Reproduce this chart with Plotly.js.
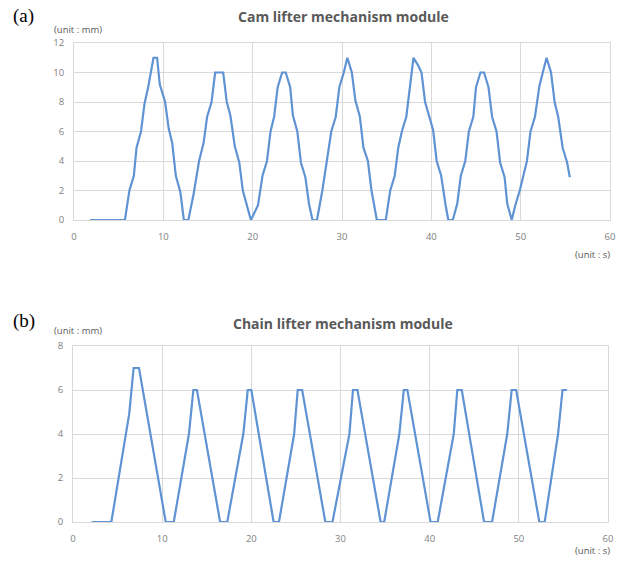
<!DOCTYPE html>
<html>
<head>
<meta charset="utf-8">
<script src="https://cdn.plot.ly/plotly-3.0.1.min.js"></script>
<style>html,body{margin:0;padding:0;background:#fff;}#chart{width:620px;height:561px;}</style>
</head>
<body>
<div id="chart"></div>
<script>
// Cam lifter mechanism module (unit: s, mm)
var camTime = [1.8,5.7,6.2,6.7,7.0,7.5,7.9,8.3,8.9,9.3,9.6,10.2,10.6,11.0,11.4,11.9,12.3,12.8,13.4,14.0,14.5,14.9,15.4,15.8,16.7,17.1,17.5,18.0,18.5,18.9,19.8,20.6,21.1,21.6,22.0,22.4,22.8,23.3,23.7,24.2,24.5,25.0,25.4,25.9,26.3,26.7,27.2,27.8,28.3,28.8,29.3,29.7,30.2,30.6,31.1,31.5,32.0,32.4,32.9,33.3,33.9,34.9,35.4,35.9,36.3,36.7,37.2,37.6,38.0,38.5,38.9,39.3,39.8,40.2,40.6,41.1,41.6,41.9,42.4,42.9,43.3,43.8,44.2,44.7,45.0,45.5,45.9,46.4,46.8,47.3,47.7,48.2,48.5,49.0,49.4,49.9,50.3,50.7,51.1,51.6,52.1,52.5,52.9,53.4,53.8,54.2,54.7,55.2,55.5];
var camDisp = [0,0,2,3,4.9,6,7.9,9,11,11,9.2,8,6.2,5.2,3,1.9,0,0,1.8,4,5.2,7,8,10,10,8,7.1,5,3.9,2,0,1,3,4,6,7,9,10,10,9,7.1,6,3.9,2.9,1.1,0,0,2,4,6,7,9,10,11,10,8.1,7,4.9,4,2,0,0,2,3,4.9,6,7,9,11,10.5,10,8,7,6.1,4,3,1,0,0,1.1,3,4,6,7,9,10,10,9,7,6,3.9,2.9,1.1,0,1,2,3,4,6,7,9.1,10,11,10,8,7,4.9,3.9,2.9];
// Chain lifter mechanism module (unit: s, mm)
var chainTime = [2.1,4.3,6.3,6.8,7.4,10.4,11.3,13.0,13.5,13.9,16.5,17.3,19.1,19.6,20.0,22.5,23.1,24.8,25.2,25.7,28.3,29.1,31.0,31.4,31.9,34.5,34.9,36.6,37.1,37.5,40.1,40.9,42.7,43.1,43.6,46.1,47.0,48.7,49.2,49.7,52.3,52.9,54.4,54.9,55.4];
var chainDisp = [0,0,4.9,7,7,0,0,4,6,6,0,0,4,6,6,0,0,4,6,6,0,0,4,6,6,0,0,4,6,6,0,0,4,6,6,0,0,4,6,6,0,0,4,6,6];

var xTicks = [0,10,20,30,40,50,60];
var camTicks = [0,2,4,6,8,10,12];
var chainTicks = [0,2,4,6,8];

var W = 620, H = 561;
function px(x){return x/W;}
function py(y){return 1 - y/H;}

var lineStyle = {color:'#5f93d3', width:2.2};
var tickFont = {family:'Open Sans, sans-serif', size:9.5, color:'#808080'};
var grid = '#d9d9d9';

function xax(dom, anchor){
  return {domain:dom, anchor:anchor, range:[0,60], tickmode:'array', tickvals:xTicks,
    showgrid:true, gridcolor:grid, gridwidth:1, zeroline:false, showline:true, mirror:true,
    linecolor:grid, linewidth:1, ticks:'', tickfont:tickFont, ticklabelstandoff:8, fixedrange:true};
}
function yax(dom, anchor, rng, tv){
  return {domain:dom, anchor:anchor, range:rng, tickmode:'array', tickvals:tv,
    showgrid:true, gridcolor:grid, gridwidth:1, zeroline:false, showline:true, mirror:true,
    linecolor:grid, linewidth:1, ticks:'', tickfont:tickFont, ticklabelstandoff:7, fixedrange:true};
}

var data = [
  {x:camTime, y:camDisp, type:'scatter', mode:'lines', line:lineStyle, xaxis:'x', yaxis:'y', hoverinfo:'skip'},
  {x:chainTime, y:chainDisp, type:'scatter', mode:'lines', line:lineStyle, xaxis:'x2', yaxis:'y2', hoverinfo:'skip'}
];

var titleFont = {family:'Open Sans, sans-serif', size:14, color:'#595959', weight:700};
var unitFont = {family:'Open Sans, sans-serif', size:9.5, color:'#595959'};
var labFont = {family:'Liberation Serif, Times New Roman, serif', size:19, color:'#000'};

function ann(text, x, y, font, xa, ya){
  return {text:text, xref:'paper', yref:'paper', x:px(x), y:py(y), showarrow:false,
    font:font, xanchor:xa||'center', yanchor:ya||'middle'};
}

var layout = {
  width:W, height:H, margin:{l:0,r:0,t:0,b:0},
  paper_bgcolor:'#fff', plot_bgcolor:'#fff', showlegend:false,
  xaxis: xax([px(74), px(610)], 'y'),
  yaxis: yax([py(220), py(43)], 'x', [0,12], camTicks),
  xaxis2: xax([px(73), px(608)], 'y2'),
  yaxis2: yax([py(522), py(346)], 'x2', [0,8], chainTicks),
  annotations: [
    ann('(a)', 11, 16, labFont, 'left'),
    ann('Cam lifter mechanism module', 343, 17, titleFont),
    ann('(unit : mm)', 52, 29, unitFont, 'left'),
    ann('(unit : s)', 612, 254, unitFont, 'right'),
    ann('(b)', 11, 321, labFont, 'left'),
    ann('Chain lifter mechanism module', 343, 323, titleFont),
    ann('(unit : mm)', 52, 330, unitFont, 'left'),
    ann('(unit : s)', 612, 550, unitFont, 'right')
  ]
};

Plotly.newPlot('chart', data, layout, {displayModeBar:false, staticPlot:true});
</script>
</body>
</html>
